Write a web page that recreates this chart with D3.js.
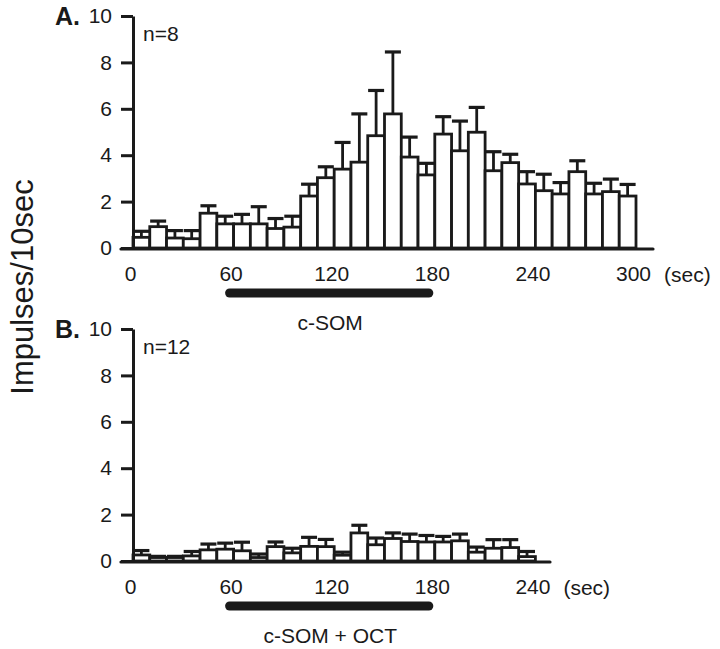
<!DOCTYPE html>
<html><head><meta charset="utf-8">
<script src="https://cdn.jsdelivr.net/npm/d3@7"></script>
<style>body{margin:0;background:#fff}text{font-family:"Liberation Sans",Arial,sans-serif;fill:#1a1a1a}</style>
</head><body>
<svg id="c" width="720" height="649"></svg>
<script>
// ---- data ----
const binsA = [0,10,20,30,40,50,60,70,80,90,100,110,120,130,140,150,160,170,180,190,200,210,220,230,240,250,260,270,280,290];
const meanA = [0.46,0.92,0.43,0.40,1.50,1.04,1.04,1.04,0.84,0.90,2.24,3.03,3.40,3.70,4.84,5.78,3.92,3.15,4.91,4.19,4.99,3.33,3.68,2.76,2.47,2.33,3.29,2.33,2.43,2.24];
const errTopA = [0.72,1.16,0.75,0.75,1.82,1.37,1.45,1.78,1.27,1.37,2.75,3.50,4.55,5.78,6.79,8.45,4.78,3.65,5.66,5.47,6.06,4.15,4.04,3.29,3.18,2.82,3.76,2.79,2.97,2.74];
const binsB = [0,10,20,30,40,50,60,70,80,90,100,110,120,130,140,150,160,170,180,190,200,210,220,230];
const meanB = [0.26,0.15,0.15,0.22,0.48,0.51,0.44,0.15,0.62,0.35,0.63,0.62,0.25,1.21,0.70,0.97,0.84,0.82,0.82,0.87,0.38,0.55,0.58,0.19];
const errTopB = [0.45,0.20,0.20,0.41,0.73,0.77,0.81,0.30,0.82,0.55,1.02,0.93,0.38,1.54,0.99,1.21,1.16,1.10,1.06,1.16,0.60,0.92,0.92,0.41];
const yTicks = [0,2,4,6,8,10];
const xTicksA = [0,60,120,180,240,300];
const xTicksB = [0,60,120,180,240];
const stimA = [60,180];
const stimB = [60,180];
const binWidth = 10;

// ---- drawing ----
const svg = d3.select("#c");
const ink = "#1a1a1a";
const x = d3.scaleLinear().domain([0,300]).range([133,636]);

function panel(o){
  const y = d3.scaleLinear().domain([0,10]).range([o.y0,o.y0-232]);
  const g = svg.append("g");
  // bars
  g.selectAll("rect.bar").data(o.bins).join("rect")
    .attr("x",(d)=>x(d)).attr("width",(d)=>x(d+binWidth)-x(d))
    .attr("y",(d,i)=>y(o.mean[i])).attr("height",(d,i)=>y(0)-y(o.mean[i]))
    .attr("fill","#fff").attr("stroke",ink).attr("stroke-width",2.8);
  // error bars
  const eb = g.selectAll("g.err").data(o.bins).join("g");
  eb.append("line")
    .attr("x1",(d)=>x(d+binWidth/2)).attr("x2",(d)=>x(d+binWidth/2))
    .attr("y1",(d,i)=>y(o.mean[i])).attr("y2",(d,i)=>y(o.err[i]))
    .attr("stroke",ink).attr("stroke-width",2.8);
  eb.append("line")
    .attr("x1",(d)=>x(d+binWidth/2)-8).attr("x2",(d)=>x(d+binWidth/2)+8)
    .attr("y1",(d,i)=>y(o.err[i])).attr("y2",(d,i)=>y(o.err[i]))
    .attr("stroke",ink).attr("stroke-width",3.2);
  // y axis
  const ya = g.append("g").attr("transform",`translate(${x(0)},0)`)
    .call(d3.axisLeft(y).tickValues(yTicks).tickSize(12).tickSizeOuter(0).tickPadding(9));
  ya.select(".domain").attr("stroke",ink).attr("stroke-width",3);
  ya.selectAll(".tick line").attr("stroke",ink).attr("stroke-width",3);
  ya.selectAll(".tick text").attr("font-size",21).attr("font-family","Liberation Sans, Arial, sans-serif").attr("fill",ink);
  // x axis line
  g.append("line").attr("x1",x(0)-12).attr("x2",o.axisEnd).attr("y1",y(0)+1).attr("y2",y(0)+1)
    .attr("stroke",ink).attr("stroke-width",3.2).attr("stroke-linecap","round");
  const xa = g.append("g").attr("transform",`translate(-3,${y(0)})`)
    .call(d3.axisBottom(x).tickValues(o.xTicks).tickSize(0).tickPadding(18));
  xa.select(".domain").remove();
  xa.selectAll(".tick text").attr("font-size",21).attr("font-family","Liberation Sans, Arial, sans-serif").attr("fill",ink);
  g.append("text").attr("x",x(o.xTicks[o.xTicks.length-1])+28).attr("y",y(0)+34)
    .attr("font-size",21).text("(sec)");
  // stimulus bar
  g.append("line").attr("x1",x(o.stim[0])-4).attr("x2",x(o.stim[1])-6)
    .attr("y1",y(0)+45).attr("y2",y(0)+45)
    .attr("stroke",ink).attr("stroke-width",9).attr("stroke-linecap","round");
  g.append("text").attr("x",(x(o.stim[0])+x(o.stim[1]))/2-4).attr("y",y(0)+82)
    .attr("text-anchor","middle").attr("font-size",21).text(o.stimLabel);
  // labels
  g.append("text").attr("x",55).attr("y",y(10)+9).attr("font-size",25).attr("font-weight","bold").text(o.letter);
  g.append("text").attr("x",143).attr("y",y(10)+25).attr("font-size",21).text(o.n);
}

panel({y0:248,bins:binsA,mean:meanA,err:errTopA,xTicks:xTicksA,stim:stimA,stimLabel:"c-SOM",letter:"A.",n:"n=8",axisEnd:653});
panel({y0:561,bins:binsB,mean:meanB,err:errTopB,xTicks:xTicksB,stim:stimB,stimLabel:"c-SOM + OCT",letter:"B.",n:"n=12",axisEnd:550});

svg.append("text").attr("transform","translate(33,287) rotate(-90)")
  .attr("text-anchor","middle").attr("font-size",31).text("Impulses/10sec");
</script>
</body></html>
